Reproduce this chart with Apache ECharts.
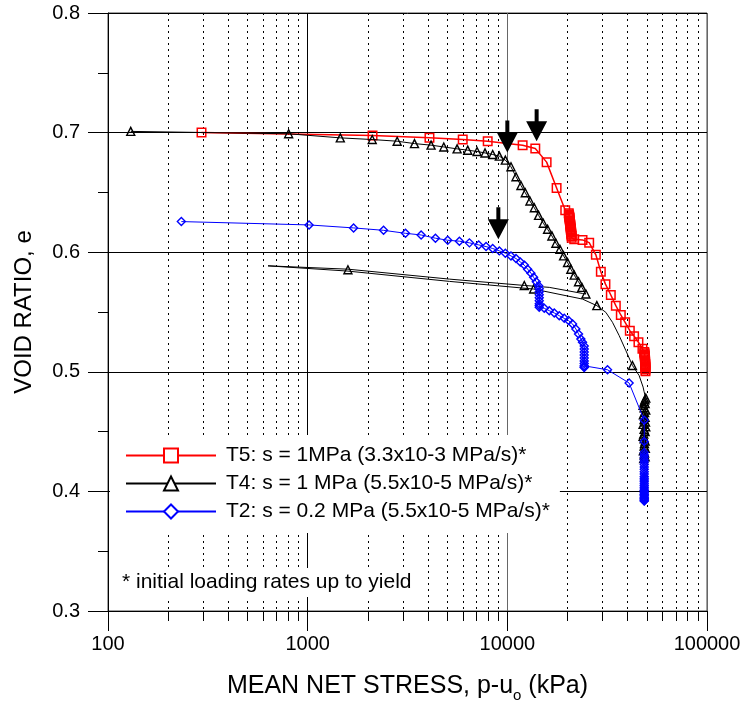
<!DOCTYPE html>
<html>
<head>
<meta charset="utf-8">
<script src="https://cdn.jsdelivr.net/npm/echarts@6/dist/echarts.min.js"></script>
<style>
  html, body { margin: 0; padding: 0; background: #fff; }
  #chart { width: 744px; height: 708px; }
</style>
</head>
<body>
<div id="chart"></div>
<script>
// Mean net stress (kPa) and void ratio for the three suction-controlled tests.

// T5: s = 1 MPa, fast loading
const t5P = [294, 2113, 4074, 5979, 7974, 11930, 13804, 15730, 17650, 19500,
  20300, 20350, 20400, 20450, 20500, 20500, 20550, 20600, 20600, 20650, 20700, 20700,
  20750, 20800, 20800, 20850, 20900, 20900, 20950, 21000, 21000, 21630,
  23800, 25700, 27750, 29400, 31000, 32980, 34940, 37010, 38900, 41060, 43150, 45360, 47500,
  48500, 48600, 48700, 48800, 48800, 48900, 48900, 49000, 49000, 49000, 49100, 49100, 49100,
  49200, 49200, 49200];
const t5E = [0.700, 0.6975, 0.6956, 0.6942, 0.6928, 0.6895, 0.6867, 0.6753, 0.6536, 0.635,
  0.6325, 0.6315, 0.6305, 0.6295, 0.6285, 0.6275, 0.6265, 0.6255, 0.6245, 0.6235, 0.6225, 0.6215,
  0.6205, 0.6195, 0.6185, 0.6175, 0.6165, 0.6155, 0.6145, 0.6135, 0.612, 0.6108,
  0.6103, 0.608, 0.5978, 0.5836, 0.5733, 0.5642, 0.5553, 0.5475, 0.5414, 0.5344, 0.5297, 0.5247, 0.5192,
  0.5165, 0.5155, 0.5145, 0.5135, 0.5125, 0.5115, 0.5105, 0.5095, 0.5085, 0.5075, 0.5065, 0.5055,
  0.5045, 0.5035, 0.502, 0.5005];

// T4: s = 1 MPa, slow loading up to yield
const t4LoadP = [130, 803, 1457, 2105, 2807, 3428, 4150, 4805, 5603, 6334, 7053, 7730, 8446, 9120,
  9772, 10430, 11050, 11700, 12300, 12980, 13650, 14340, 15140, 15910, 16720, 17510, 18340,
  19130, 20030, 20810, 21630, 22730, 23620, 24740];
const t4LoadE = [0.701, 0.699, 0.6956, 0.6942, 0.6928, 0.6908, 0.6895, 0.688, 0.6864, 0.6853, 0.6842,
  0.683, 0.6817, 0.6803, 0.677, 0.6714, 0.6631, 0.6558, 0.6497, 0.6428, 0.6372, 0.6308, 0.6242,
  0.6192, 0.6136, 0.6075, 0.6025, 0.5969, 0.5914, 0.5858, 0.5808, 0.5753, 0.5706, 0.565];
// T4 unloading path
const t4UnloadP = [24740, 23800, 16220, 12160, 5129, 1591, 633];
const t4UnloadE = [0.565, 0.5655, 0.5706, 0.5722, 0.5775, 0.5858, 0.5886];
// T4 reloading path
const t4ReloadP = [633, 1591, 5129, 13540, 23800, 28070, 31140, 33620, 36310, 39210, 42330, 45710,
  47860, 48420, 49350, 48980, 48420, 49000, 48700];
const t4ReloadE = [0.5886, 0.5842, 0.5756, 0.5692, 0.5608, 0.5553, 0.5497, 0.5414, 0.5303, 0.5178,
  0.5053, 0.4969, 0.4872, 0.4833, 0.478, 0.465, 0.450, 0.440, 0.430];
// T4 measured points along unloading / reloading
const t4MarkP = [1591, 12160, 13540, 28070, 42330,
  49350, 48900, 48420, 48980, 47860, 48420, 49350, 48700, 48000, 48980, 48420, 49200,
  47860, 49350, 48420, 48980, 48200, 47860, 48420, 49000, 48600, 48420, 49100, 48000,
  48700, 48420, 49000, 48200];
const t4MarkE = [0.5853, 0.5722, 0.5692, 0.5553, 0.5053,
  0.478, 0.4765, 0.475, 0.4735, 0.472, 0.470, 0.468, 0.466, 0.464, 0.462, 0.460, 0.458,
  0.456, 0.454, 0.452, 0.450, 0.448, 0.446, 0.444, 0.442, 0.440, 0.438, 0.436, 0.434,
  0.432, 0.4305, 0.429, 0.4275];

// T2: s = 0.2 MPa
const t2P = [233, 1016, 1698, 2399, 3090, 3700, 4365, 5030, 5754, 6457, 7190, 7825, 8446, 9120,
  9772, 10430, 11050, 11610, 12160, 12640, 13130, 13540, 13960, 14340,
  14450, 14450, 14450, 14450, 14450, 14450, 14450, 14450,
  15310, 16220, 17180, 18200, 19280, 20260, 21220, 22040, 22730, 23350, 23800,
  24270, 24270, 24270, 24270, 24270, 24270, 24270, 24270, 24270, 24270,
  31750, 40740, 48500, 48500, 48500,
  48500, 48500, 48500, 48500, 48500, 48500, 48500, 48500, 48500, 48500, 48500, 48500, 48500,
  48500, 48500, 48500, 48500, 48500, 48500, 48500, 48500, 48500, 48500, 48500, 48500, 48500,
  48500, 48500, 48500, 48500];
const t2E = [0.6256, 0.6228, 0.6203, 0.6183, 0.6158, 0.6144, 0.6117, 0.610, 0.6092, 0.6078, 0.6061,
  0.6047, 0.6031, 0.6011, 0.5992, 0.5969, 0.5947, 0.5919, 0.5892, 0.5858, 0.5825, 0.579, 0.5753, 0.572,
  0.5695, 0.567, 0.5645, 0.562, 0.5595, 0.557, 0.5555, 0.554,
  0.5531, 0.5511, 0.5492, 0.5469, 0.5447, 0.5428, 0.540, 0.5358, 0.5317, 0.5275, 0.5247,
  0.5215, 0.519, 0.5165, 0.514, 0.5115, 0.509, 0.507, 0.505, 0.504, 0.5035,
  0.5017, 0.4906, 0.4594, 0.4417, 0.4325,
  0.4305, 0.4285, 0.4265, 0.4245, 0.4225, 0.4205, 0.4185, 0.4165, 0.4145, 0.4125, 0.411, 0.4095, 0.408,
  0.4065, 0.405, 0.4035, 0.402, 0.4005, 0.399, 0.3978, 0.3966, 0.3954, 0.3942, 0.3932, 0.3922,
  0.4005, 0.3975, 0.3945, 0.392];

// Yield points marked with arrows (arrow tip position)
const arrowP = [10000, 14020, 9016];
const arrowE = [0.6833, 0.6928, 0.6108];

const seriesNames = [
  'T5: s = 1MPa (3.3x10-3 MPa/s)*',
  'T4: s = 1 MPa (5.5x10-5 MPa/s)*',
  'T2: s = 0.2 MPa (5.5x10-5 MPa/s)*'
];
const footnote = '* initial loading rates up to yield';

const pairs = (xs, ys) => xs.map((x, i) => [x, ys[i]]);
const FONT = "'Liberation Sans', Arial, Helvetica, sans-serif";
const RED = '#ff0000', BLACK = '#000000', BLUE = '#0000ff';
// hollow markers: outlines only, so closely spaced readings merge into a solid band
const HOLLOW = 'rgba(255,255,255,0)';

const chart = echarts.init(document.getElementById('chart'), null, { renderer: 'canvas' });

chart.setOption({
  animation: false,
  backgroundColor: '#ffffff',
  textStyle: { fontFamily: FONT },
  grid: {
    left: 108, right: 37, top: 13, bottom: 95,
    show: true, borderColor: '#444', borderWidth: 1, backgroundColor: 'transparent'
  },
  title: {
    text: footnote,
    left: 110, top: 568,
    padding: [4, 10, 4, 12],
    backgroundColor: '#ffffff',
    textStyle: { fontSize: 21, fontWeight: 'normal', color: '#000', fontFamily: FONT }
  },
  legend: {
    data: seriesNames,
    orient: 'vertical',
    left: 110, top: 435,
    padding: [10, 10, 11, 15],
    itemGap: 7,
    itemWidth: 90,
    itemHeight: 17.5,
    backgroundColor: '#ffffff',
    selectedMode: false,
    itemStyle: { color: '#ffffff' },
    textStyle: { fontSize: 21, color: '#000', fontFamily: FONT, padding: [0, 0, 0, 5] }
  },
  xAxis: {
    type: 'log', logBase: 10, min: 100, max: 100000,
    axisLine: { onZero: false, lineStyle: { color: '#000', width: 1 } },
    axisTick: { show: true, length: 20, lineStyle: { color: '#000' } },
    minorTick: { show: true, splitNumber: 9, length: 10, lineStyle: { color: '#000' } },
    splitLine: { show: true, lineStyle: { color: ['#000', '#000', '#666', '#666'], width: 1 } },
    minorSplitLine: { show: true, lineStyle: { color: '#000', width: 1, type: [2, 4] } },
    axisLabel: {
      fontSize: 20, color: '#000', margin: 23, fontFamily: FONT,
      formatter: v => String(Math.round(v))
    },
    name: '{a|MEAN NET STRESS, p-u}{b|o}{a| (kPa)}',
    nameLocation: 'middle',
    nameGap: 58,
    nameTextStyle: {
      rich: {
        a: { fontSize: 25, color: '#000', fontFamily: FONT },
        b: { fontSize: 15, color: '#000', fontFamily: FONT, verticalAlign: 'bottom', lineHeight: 34 }
      }
    }
  },
  yAxis: {
    type: 'value', min: 0.3, max: 0.8, interval: 0.1,
    axisLine: { show: true, lineStyle: { color: '#000', width: 1 } },
    axisTick: { show: true, length: 20, lineStyle: { color: '#000' } },
    minorTick: { show: true, splitNumber: 2, length: 10, lineStyle: { color: '#000' } },
    splitLine: { show: true, lineStyle: { color: '#000', width: 1 } },
    axisLabel: {
      fontSize: 20, color: '#000', margin: 28, fontFamily: FONT,
      formatter: v => v.toFixed(1)
    },
    name: 'VOID RATIO, e',
    nameLocation: 'middle',
    nameRotate: 90,
    nameGap: 72,
    nameTextStyle: { fontSize: 24, color: '#000', fontFamily: FONT }
  },
  series: [
    {
      name: seriesNames[0], type: 'line', data: pairs(t5P, t5E),
      symbol: 'rect', symbolSize: 8.5, showAllSymbol: true,
      lineStyle: { color: RED, width: 1.5 },
      itemStyle: { color: HOLLOW, borderColor: RED, borderWidth: 1.5 },
      z: 3
    },
    {
      name: seriesNames[1], type: 'line', data: pairs(t4LoadP, t4LoadE),
      symbol: 'triangle', symbolSize: 8, showAllSymbol: true,
      lineStyle: { color: BLACK, width: 1 },
      itemStyle: { color: HOLLOW, borderColor: BLACK, borderWidth: 1.4 },
      z: 4
    },
    {
      name: seriesNames[1], type: 'line', data: pairs(t4UnloadP, t4UnloadE),
      symbol: 'none', showSymbol: false,
      lineStyle: { color: BLACK, width: 1 },
      z: 4
    },
    {
      name: seriesNames[1], type: 'line', data: pairs(t4ReloadP, t4ReloadE),
      symbol: 'none', showSymbol: false,
      lineStyle: { color: BLACK, width: 1 },
      z: 4
    },
    {
      name: seriesNames[1], type: 'scatter', data: pairs(t4MarkP, t4MarkE),
      symbol: 'triangle', symbolSize: 8,
      itemStyle: { color: HOLLOW, borderColor: BLACK, borderWidth: 1.4, opacity: 1 },
      z: 5
    },
    {
      name: seriesNames[2], type: 'line', data: pairs(t2P, t2E),
      symbol: 'diamond', symbolSize: 8, showAllSymbol: true,
      lineStyle: { color: BLUE, width: 1 },
      itemStyle: { color: HOLLOW, borderColor: BLUE, borderWidth: 1.4 },
      z: 6
    },
    {
      name: 'yield', type: 'scatter', data: pairs(arrowP, arrowE),
      symbol: 'path://M8.5,0L12.5,0L12.5,12L21,12L10.5,32L0,12L8.5,12Z',
      symbolSize: [21, 32], symbolOffset: [0, -16], symbolKeepAspect: false,
      itemStyle: { color: '#000', opacity: 1 },
      silent: true,
      z: 8
    }
  ]
});
</script>
</body>
</html>
